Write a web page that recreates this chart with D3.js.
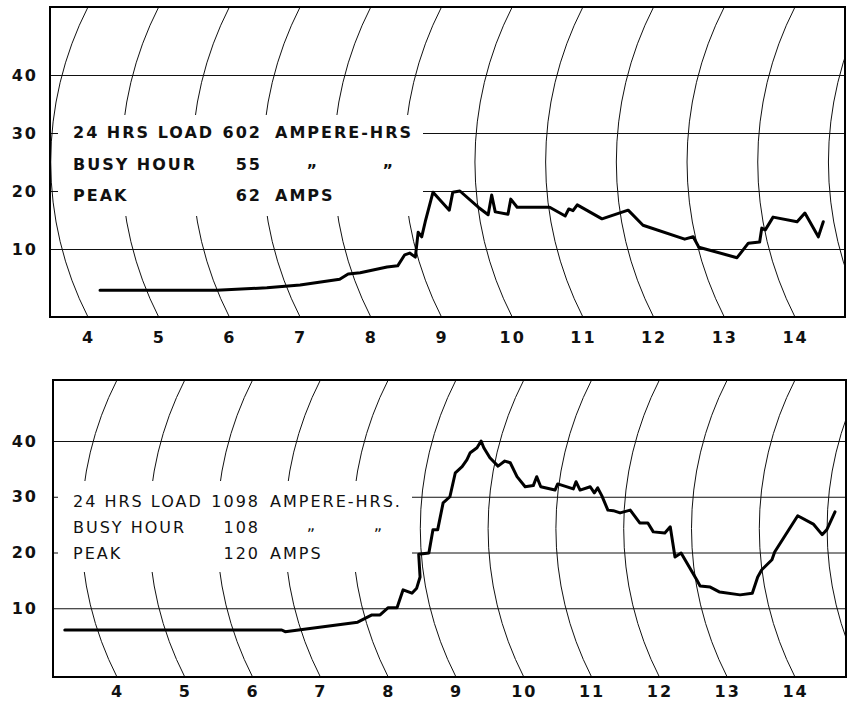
<!DOCTYPE html>
<html><head><meta charset="utf-8">
<script src="https://cdn.jsdelivr.net/npm/d3@7"></script>
<style>
  body { margin: 0; background: #fff; }
  .grid line { stroke: #111; stroke-width: 1; }
  .grid path { display: none; }
  .arc { fill: none; stroke: #111; stroke-width: 1; }
  .frame { fill: none; stroke: #000; stroke-width: 2; }
  .load { fill: none; stroke: #000; stroke-width: 3; stroke-linejoin: round; stroke-linecap: round; }
  .ticks path { display: none; }
  .ticks text { font-family: "DejaVu Sans"; font-weight: bold; font-size: 16px; fill: #111; letter-spacing: 2px; }
  .notes text { font-family: "DejaVu Sans"; fill: #111; }
</style>
</head>
<body>
<svg id="chart" width="847" height="705"></svg>

<script>
// hours of the day (24h clock) and load in amps
var topHours = [4.17, 5.82, 6.53, 7.00, 7.56, 7.68, 7.85, 8.23, 8.38, 8.48, 8.55, 8.63, 8.67, 8.72, 8.77, 8.88,
  9.11, 9.16, 9.26, 9.52, 9.66, 9.71, 9.76, 9.94, 9.98, 10.07, 10.53, 10.75, 10.80, 10.86, 10.92,
  11.27, 11.64, 11.85, 12.44, 12.56, 12.64, 13.18, 13.34, 13.50, 13.53, 13.58, 13.69, 14.03, 14.14, 14.33, 14.40]
var topAmps = [2.9, 2.9, 3.3, 3.8, 4.8, 5.7, 5.9, 6.9, 7.1, 9.0, 9.3, 8.6, 12.9, 12.1, 14.7, 19.8,
  16.7, 19.8, 20.0, 17.2, 15.9, 19.3, 16.4, 16.0, 18.6, 17.2, 17.2, 15.7, 16.9, 16.6, 17.6,
  15.2, 16.7, 14.1, 11.7, 12.1, 10.3, 8.5, 11.0, 11.2, 13.6, 13.3, 15.5, 14.7, 16.2, 12.1, 14.7]

var bottomHours = [3.23, 6.43, 6.48, 7.55, 7.76, 7.88, 8.00, 8.13, 8.22, 8.35, 8.42, 8.47, 8.45, 8.60, 8.66, 8.73,
  8.81, 8.91, 8.99, 9.09, 9.16, 9.21, 9.31, 9.37, 9.41, 9.50, 9.62, 9.72, 9.80, 9.90, 10.02, 10.14,
  10.19, 10.25, 10.46, 10.50, 10.73, 10.77, 10.83, 10.98, 11.04, 11.09, 11.15, 11.24, 11.32, 11.42,
  11.57, 11.71, 11.83, 11.91, 12.08, 12.16, 12.23, 12.32, 12.55, 12.60, 12.75, 12.89, 13.19, 13.37,
  13.45, 13.51, 13.66, 13.70, 14.04, 14.27, 14.40, 14.47, 14.59]
var bottomAmps = [6.1, 6.1, 5.8, 7.5, 8.8, 8.8, 10.1, 10.1, 13.3, 12.7, 13.6, 15.6, 19.7, 19.9, 24.1, 24.1,
  28.9, 30.0, 34.3, 35.4, 36.6, 37.9, 38.8, 40.0, 38.8, 37.0, 35.5, 36.4, 36.1, 33.6, 31.8, 32.0,
  33.6, 31.8, 31.2, 32.3, 31.4, 32.7, 31.2, 31.8, 30.7, 31.6, 30.2, 27.6, 27.5, 27.1,
  27.6, 25.3, 25.3, 23.7, 23.5, 24.6, 19.2, 19.9, 15.1, 14.0, 13.8, 12.9, 12.4, 12.7,
  15.6, 16.9, 18.7, 20.1, 26.6, 25.1, 23.2, 24.1, 27.3]

var yTicks = [10, 20, 30, 40]
var xTicks = [4, 5, 6, 7, 8, 9, 10, 11, 12, 13, 14]
var arcHours = [3, 4, 5, 6, 7, 8, 9, 10, 11, 12, 13, 14, 15, 16]

var topNotes = [["24 HRS LOAD", "602", "AMPERE-HRS"], ["BUSY HOUR", "55", "\u201E", "\u201E"], ["PEAK", "62", "AMPS"]]
var bottomNotes = [["24 HRS LOAD", "1098", "AMPERE-HRS."], ["BUSY HOUR", "108", "\u201E", "\u201E"], ["PEAK", "120", "AMPS"]]

var svg = d3.select("#chart")

// panel layout in pixels
var panels = [
  { id: "a", left: 50, right: 845, top: 7, bottom: 317, x4: 88, x14: 795, y0: 307, y40: 75,
    box: [58, 115, 423, 216], rows: [138, 170, 201], cols: [73, 262, 275], ditto: [313, 389],
    weight: "bold", size: 16, spacing: 2, xlabY: 343,
    hours: topHours, amps: topAmps, notes: topNotes },
  { id: "b", left: 53, right: 846, top: 380, bottom: 677, x4: 117, x14: 795, y0: 664, y40: 441,
    box: [58, 481, 412, 572], rows: [507, 533, 559], cols: [73, 260, 270], ditto: [312, 379],
    weight: "normal", size: 16, spacing: 2, xlabY: 697,
    hours: bottomHours, amps: bottomAmps, notes: bottomNotes }
]

panels.forEach(function(p) {
  var x = d3.scaleLinear().domain([4, 14]).range([p.x4, p.x14])
  var y = d3.scaleLinear().domain([0, 40]).range([p.y0, p.y40])

  svg.append("clipPath").attr("id", "clip-" + p.id)
    .append("rect").attr("x", p.left).attr("y", p.top)
    .attr("width", p.right - p.left).attr("height", p.bottom - p.top)

  var inner = svg.append("g").attr("clip-path", "url(#clip-" + p.id + ")")

  // horizontal amp lines
  var grid = d3.axisRight(y).tickValues(yTicks).tickSize(p.right - p.left).tickFormat("")
  grid(inner.append("g").classed("grid", true).attr("transform", "translate(" + p.left + ",0)"))

  // recorder pen arcs, one per hour
  var half = (p.bottom - p.top) / 2
  var R = 2.2 * half
  inner.selectAll(".arc").data(arcHours).enter().append("path")
    .classed("arc", true)
    .attr("d", function(h) {
      return "M" + x(h) + "," + p.top + " A" + R + "," + R + " 0 0 0 " + x(h) + "," + p.bottom
    })

  // white label block
  inner.append("rect")
    .attr("x", p.box[0]).attr("y", p.box[1])
    .attr("width", p.box[2] - p.box[0]).attr("height", p.box[3] - p.box[1])
    .attr("fill", "#fff")

  var notes = svg.append("g").classed("notes", true)
    .style("font-weight", p.weight).style("font-size", p.size + "px").style("letter-spacing", p.spacing + "px")
  p.notes.forEach(function(row, i) {
    var by = p.rows[i]
    notes.append("text").attr("x", p.cols[0]).attr("y", by).text(row[0])
    notes.append("text").attr("x", p.cols[1]).attr("y", by).attr("text-anchor", "end").text(row[1])
    if (row.length == 4) {
      notes.append("text").attr("x", p.ditto[0]).attr("y", by - 3).attr("text-anchor", "middle").text(row[2])
      notes.append("text").attr("x", p.ditto[1]).attr("y", by - 3).attr("text-anchor", "middle").text(row[3])
    } else {
      notes.append("text").attr("x", p.cols[2]).attr("y", by).text(row[2])
    }
  })

  // load trace
  var pts = p.hours.map(function(h, i) { return [h, p.amps[i]] })
  var line = d3.line().x(function(d) { return x(d[0]) }).y(function(d) { return y(d[1]) })
  svg.append("path").classed("load", true).attr("d", line(pts))

  svg.append("rect").classed("frame", true)
    .attr("x", p.left).attr("y", p.top)
    .attr("width", p.right - p.left).attr("height", p.bottom - p.top)

  // tick labels
  var yAxis = d3.axisLeft(y).tickValues(yTicks).tickSize(0).tickPadding(p.left - 38)
  yAxis(svg.append("g").classed("ticks", true).attr("transform", "translate(" + p.left + ",0)"))

  var xAxis = d3.axisBottom(x).tickValues(xTicks).tickSize(0).tickPadding(0)
  var xg = svg.append("g").classed("ticks", true).attr("transform", "translate(0," + p.xlabY + ")")
  xAxis(xg)
  xg.selectAll("text").attr("dy", null).attr("y", 0)
})
</script>
</body>
</html>
